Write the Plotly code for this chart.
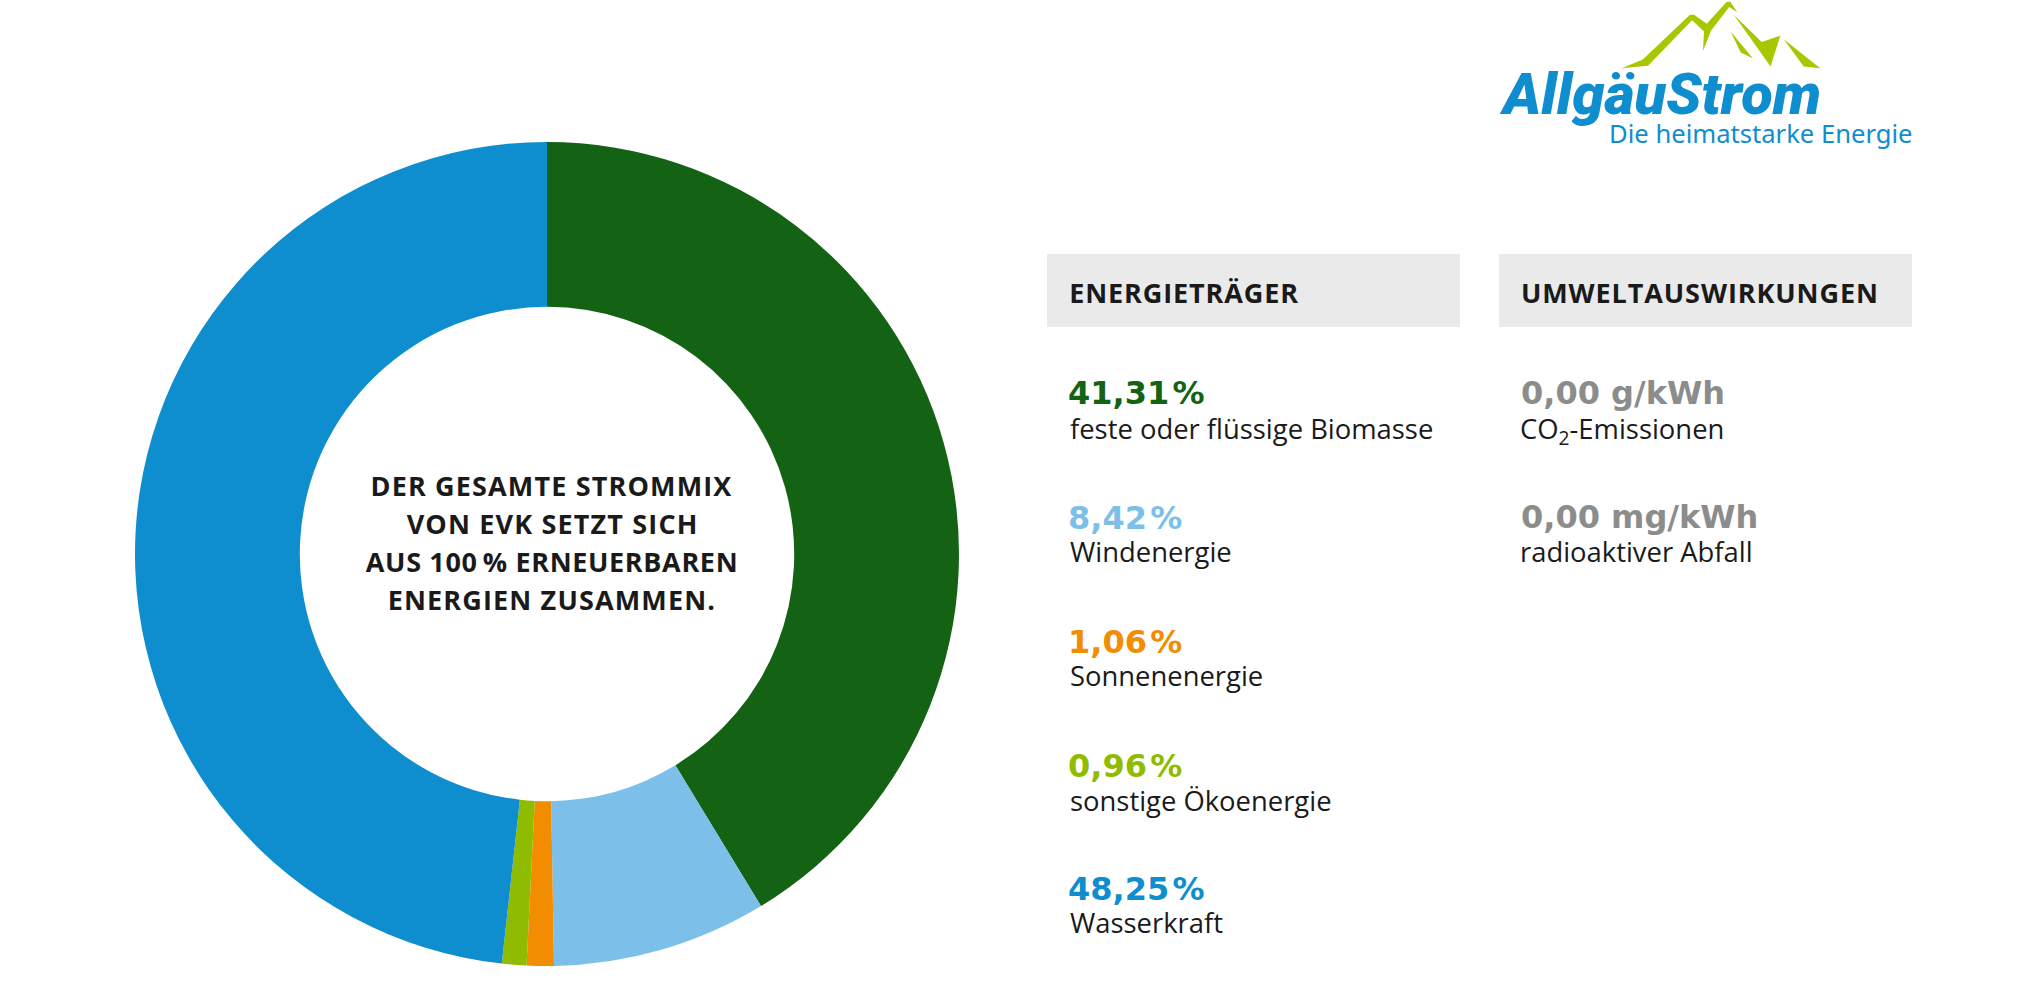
import plotly.graph_objects as go

W, H = 2029, 1008

categories = ["feste oder flüssige Biomasse", "Windenergie", "Sonnenenergie", "sonstige Ökoenergie", "Wasserkraft"]
values = [41.31, 8.42, 1.06, 0.96, 48.25]
value_labels = ["41,31\u200a%", "8,42\u200a%", "1,06\u200a%", "0,96\u200a%", "48,25\u200a%"]
colors = ["#146314", "#7CC0EA", "#F28C00", "#8FBC00", "#0E8ECF"]
impact_values = ["0,00 g/kWh", "0,00 mg/kWh"]
impact_labels = ["CO<sub>2</sub>-Emissionen", "radioaktiver Abfall"]
center_lines = ["DER GESAMTE STROMMIX", "VON EVK SETZT SICH", "AUS 100\u2009% ERNEUERBAREN", "ENERGIEN ZUSAMMEN."]
headers = ["ENERGIETRÄGER", "UMWELTAUSWIRKUNGEN"]

FONT = "Open Sans"
DARK = "#1a1a1a"
GREY = "#8c8c8c"


def px(x):
    return x / W


def py(y):
    return 1 - y / H


def path(points):
    return "M " + " L ".join(f"{px(a):.5f},{py(b):.5f}" for a, b in points) + " Z"


def label(x, y, text, size, color, weight=400, anchor="left", family=FONT, style="normal"):
    return dict(x=px(x), y=py(y), xref="paper", yref="paper", text=text, showarrow=False,
                xanchor=anchor, yanchor="middle", borderpad=0,
                font=dict(family=family, size=size, color=color, weight=weight, style=style))


cx, cy, r = 547, 554, 412
fig = go.Figure(go.Pie(
    values=values, labels=categories, hole=0.6, sort=False, direction="clockwise", rotation=0,
    marker=dict(colors=colors, line=dict(width=0)), textinfo="none", hoverinfo="label+percent",
    domain=dict(x=[px(cx - r), px(cx + r)], y=[py(cy + r), py(cy - r)]),
    showlegend=False,
))

shapes = [
    dict(type="rect", xref="paper", yref="paper", x0=px(x0), x1=px(x1), y0=py(327), y1=py(254),
         fillcolor="#EAEAEA", line=dict(width=0), layer="below")
    for x0, x1 in [(1047, 1460), (1499, 1912)]
]

# logo mountains (pixel outlines from the reference)
to_logo = lambda pts: [(1480 + a * 0.35, b * 0.35) for a, b in pts]
mountains = [
    [(405, 195), (465, 170), (600, 42), (612, 42), (648, 68), (705, 5), (715, 5), (735, 35), (712, 20),
     (660, 88), (637, 146), (640, 90), (606, 58), (480, 188)],
    [(725, 42), (805, 120), (858, 102), (830, 190), (775, 112)],
    [(716, 90), (780, 167), (745, 150)],
    [(868, 112), (972, 195), (925, 190)],
]
for m in mountains:
    shapes.append(dict(type="path", xref="paper", yref="paper", path=path(to_logo(m)),
                       fillcolor="#A9C700", line=dict(width=0)))

ann = []
for i, line in enumerate(center_lines):
    ann.append(label(552, [485.5, 523.5, 561.5, 599.5][i], line, 27, DARK, 700, "center"))

ann.append(label(1074, 292, headers[0], 27, DARK, 700))
ann.append(label(1528, 292, headers[1], 27, DARK, 700))

val_y = [393, 518, 642, 766, 889]
lab_y = [428, 551, 675, 800, 922]
for i, (v, c, name) in enumerate(zip(value_labels, colors, categories)):
    ann.append(label(1067, val_y[i], v, 32, c, 700, family="DejaVu Sans"))
    ann.append(label(1069, lab_y[i], name, 27.4, DARK))

for i, (v, name) in enumerate(zip(impact_values, impact_labels)):
    ann.append(label(1520, [393, 517][i], v, 32, GREY, 700, family="DejaVu Sans"))
    ann.append(label(1519, [430, 551][i], name, 27.4, DARK))

ann.append(label(1498, 94, "AllgäuStrom", 58, "#0E8ECF", 900, family="Roboto", style="italic"))
ann.append(label(1608, 134, "Die heimatstarke Energie", 25.6, "#0E8ECF", 400, family="Noto Sans"))

fig.update_layout(width=W, height=H, margin=dict(l=0, r=0, t=0, b=0), paper_bgcolor="white",
                  plot_bgcolor="white", shapes=shapes, annotations=ann, showlegend=False)

spacing_js = """
document.body.style.margin='0';document.body.style.overflow='hidden';
document.querySelectorAll('.annotation-text').forEach(function(t){
  var s=t.textContent;
  if(/^[A-ZÄÖÜ0-9 %.\\u2009]+$/.test(s)){
    if(s.indexOf('AUS')===0){ t.style.letterSpacing='0.65px'; }
    else if(s.indexOf('ENERGIETR')===0 || s.indexOf('UMWELT')===0){ t.style.letterSpacing='0.9px'; }
    else { t.style.letterSpacing='1.15px'; }
  }
});
"""
fig.write_html("out.html", config={"displayModeBar": False}, post_script=spacing_js)
